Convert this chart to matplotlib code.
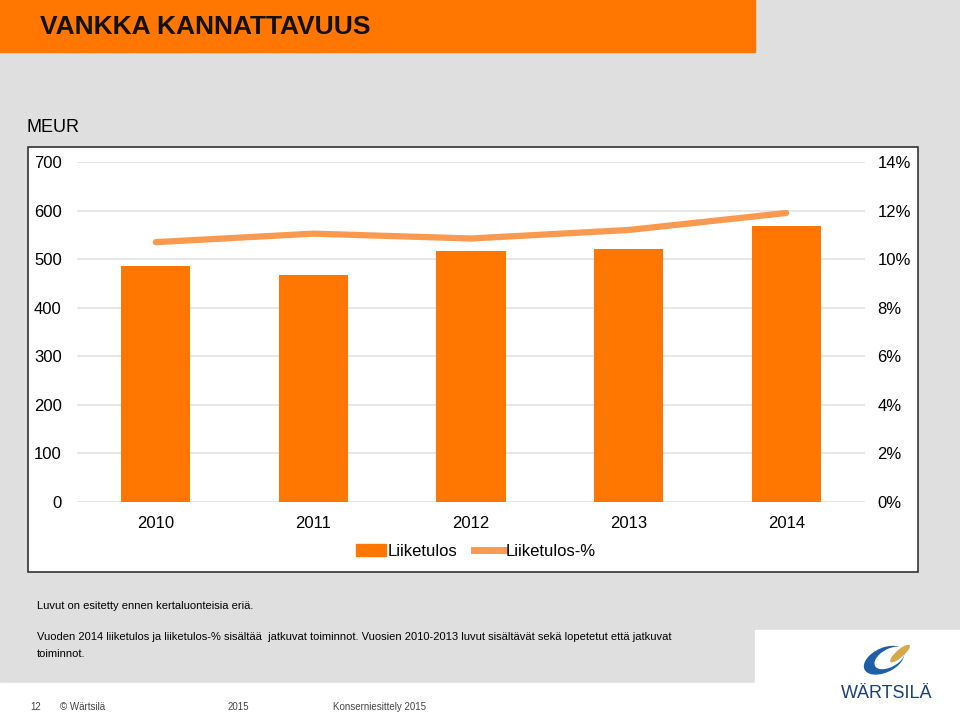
import matplotlib.pyplot as plt
from matplotlib.patches import Rectangle, Ellipse
from matplotlib.lines import Line2D

plt.rcParams['font.family'] = ['Liberation Sans', 'DejaVu Sans']

vuodet = ["2010", "2011", "2012", "2013", "2014"]
liiketulos = [486, 467, 517, 521, 568]
liiketulos_pct = [10.7, 11.05, 10.85, 11.2, 11.9]
vasen_ticks = [0, 100, 200, 300, 400, 500, 600, 700]
oikea_ticks = [0, 2, 4, 6, 8, 10, 12, 14]

bar_col = "#ff7700"
line_col = "#fa9a50"

fig = plt.figure(figsize=(9.6, 7.19), dpi=100)
fig.patch.set_facecolor("#dfdfdf")

# taustat
fig.add_artist(Rectangle((0, 0), 1, 1 - 683/719, transform=fig.transFigure, color="white", zorder=0))
fig.add_artist(Rectangle((755/960, 0), 1, 1 - 630/719, transform=fig.transFigure, color="white", zorder=0))
fig.add_artist(Rectangle((0, 1 - 52/719), 755/960, 52/719, transform=fig.transFigure, color="#ff7700", zorder=1))
fig.text(40/960, 1 - 27/719, "VANKKA KANNATTAVUUS", fontsize=19, fontweight="bold",
         color="#111111", va="center", ha="left")

# kaavion laatikko
fig.add_artist(Rectangle((28/960, 1 - 572/719), 890/960, 425/719, transform=fig.transFigure,
                         facecolor="white", edgecolor="#333333", lw=1.2, zorder=1))
fig.text(26/960, 1 - 128/719, "MEUR", fontsize=13, va="center", ha="left")

ax = fig.add_axes([77/960, 1 - 502/719, 788/960, 340/719], zorder=2)
ax.set_facecolor("none")
x = list(range(len(vuodet)))
ax.bar(x, liiketulos, width=0.44, color=bar_col, zorder=2, label="Liiketulos")
ax.set_xlim(-0.5, 4.5)
ax.set_ylim(0, 700)
ax.set_yticks(vasen_ticks)
ax.set_yticklabels([str(v) for v in vasen_ticks], fontsize=12)
ax.set_xticks(x)
ax.set_xticklabels(vuodet, fontsize=12)
ax.tick_params(length=0, pad=10)
ax.tick_params(axis="y", pad=11)
ax.grid(axis="y", color="#e3e3e3", lw=1.2, zorder=0)
for s in ax.spines.values():
    s.set_visible(False)

ax2 = ax.twinx()
ax2.plot(x, liiketulos_pct, color=line_col, lw=4.5, solid_capstyle="round", zorder=3)
ax2.set_ylim(0, 14)
ax2.set_yticks(oikea_ticks)
ax2.set_yticklabels([f"{v}%" for v in oikea_ticks], fontsize=12)
ax2.tick_params(length=0, pad=9)
for s in ax2.spines.values():
    s.set_visible(False)

handles = [Rectangle((0, 0), 1, 1, color=bar_col), Line2D([0], [0], color=line_col, lw=5)]
fig.legend(handles, ["Liiketulos", "Liiketulos-%"], loc="center", bbox_to_anchor=(476/960, 1 - 551/719),
           ncol=2, frameon=False, fontsize=12, handlelength=1.8, handletextpad=0.1, columnspacing=1.0)

# alaviitteet
fig.text(37/960, 1 - 606/719, "Luvut on esitetty ennen kertaluonteisia eriä.", fontsize=8, va="center")
fig.text(37/960, 1 - 637/719, "Vuoden 2014 liiketulos ja liiketulos-% sisältää  jatkuvat toiminnot. "
         "Vuosien 2010-2013 luvut sisältävät sekä lopetetut että jatkuvat", fontsize=8, va="center")
fig.text(37/960, 1 - 654/719, "toiminnot.", fontsize=8, va="center")

for xp, t in [(30, "12"), (60, "© Wärtsilä"), (228, "2015"), (333, "Konserniesittely 2015")]:
    fig.text(xp/960, 1 - 707/719, t, fontsize=7, color="#444444", va="center")

# logo
lax = fig.add_axes([840/960, 1 - 685/719, 80/960, 45/719])
lax.set_xlim(0, 1)
lax.set_ylim(0, 1)
lax.axis("off")
lax.add_patch(Ellipse((0.55, 0.55), 0.42, 0.7, angle=-30, facecolor="#1f5fa8", edgecolor="none"))
lax.add_patch(Ellipse((0.62, 0.6), 0.3, 0.55, angle=-30, facecolor="white", edgecolor="none"))
lax.add_patch(Ellipse((0.75, 0.7), 0.12, 0.45, angle=-30, facecolor="#d7a84a", edgecolor="none"))
fig.text(887/960, 1 - 693/719, "WÄRTSILÄ", fontsize=13, color="#1a3f7a", ha="center", va="center")

fig.savefig("out.png", dpi=100, facecolor=fig.get_facecolor())
